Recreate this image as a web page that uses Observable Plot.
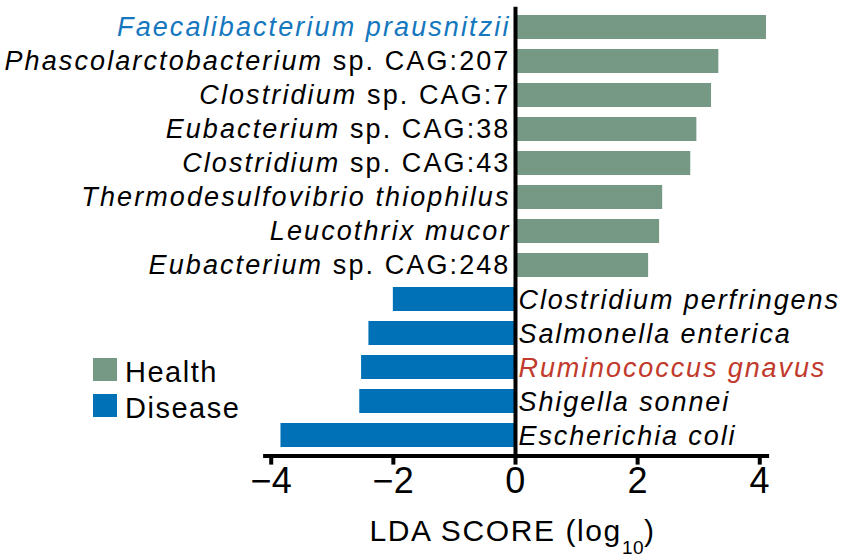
<!DOCTYPE html>
<html><head><meta charset="utf-8">
<script src="https://cdn.jsdelivr.net/npm/d3@7"></script>
<script src="https://cdn.jsdelivr.net/npm/@observablehq/plot@0.6"></script>
<style>
body{margin:0;background:#fff;}
#wrap{position:relative;width:845px;height:560px;font-family:"Liberation Sans",Arial,sans-serif;color:#000;}
#wrap svg{position:absolute;left:0;top:0;}
.leg{position:absolute;font-size:29px;line-height:29px;letter-spacing:1.5px;white-space:nowrap;}
.sw{position:absolute;width:24px;height:23px;}
#xtitle{position:absolute;left:512.5px;top:516px;transform:translateX(-50%);font-size:30px;line-height:30px;letter-spacing:1.6px;white-space:nowrap;}
#xtitle .sub{font-size:19px;position:relative;top:13px;letter-spacing:0.5px;}
.ticklab text{letter-spacing:0.3px;}
.dlab text{letter-spacing:1.9px;}
</style></head><body><div id="wrap"></div>
<script>
const healthNames = [
  "Faecalibacterium prausnitzii",
  "Phascolarctobacterium sp. CAG:207",
  "Clostridium sp. CAG:7",
  "Eubacterium sp. CAG:38",
  "Clostridium sp. CAG:43",
  "Thermodesulfovibrio thiophilus",
  "Leucothrix mucor",
  "Eubacterium sp. CAG:248"
];
const healthScores = [4.11, 3.33, 3.21, 2.97, 2.87, 2.41, 2.36, 2.18];
const diseaseNames = [
  "Clostridium perfringens",
  "Salmonella enterica",
  "Ruminococcus gnavus",
  "Shigella sonnei",
  "Escherichia coli"
];
const diseaseScores = [-2.00, -2.40, -2.52, -2.55, -3.84];
const groups = ["Health", "Disease"];
const xTicks = [-4, -2, 0, 2, 4];
const xTitle = "LDA SCORE (log";
const xTitleSub = "10";

const groupColors = ["#769986", "#0071B7"];
const labelColor = {"Faecalibacterium prausnitzii": "#1577BE", "Ruminococcus gnavus": "#C13A2C"};

const healthRows = healthNames.map((name, i) => ({name, score: healthScores[i], group: groups[0]}));
const diseaseRows = diseaseNames.map((name, i) => ({name, score: diseaseScores[i], group: groups[1]}));
const rows = healthRows.concat(diseaseRows);

function labelMarks(subset, opts) {
  const cols = Array.from(new Set(subset.map(d => labelColor[d.name] || "black")));
  return cols.map(c => Plot.text(subset.filter(d => (labelColor[d.name] || "black") === c), {...opts, fill: c}));
}

const chart = Plot.plot({
  width: 845,
  height: 560,
  marginTop: 6.7,
  marginBottom: 104.4,
  marginLeft: 264.6,
  marginRight: 78.4,
  style: {fontFamily: '"Liberation Sans", Arial, sans-serif', letterSpacing: "2.1px", background: "transparent"},
  x: {domain: [-4.1, 4.12], axis: null},
  y: {domain: rows.map(d => d.name), axis: null, paddingInner: 0.3, paddingOuter: 0.15},
  color: {domain: groups, range: groupColors},
  marks: [
    Plot.barX(rows, {x: "score", y: "name", fill: "group"}),
    Plot.ruleX([0], {stroke: "black", strokeWidth: 4}),
    Plot.frame({anchor: "bottom", stroke: "black", strokeWidth: 4}),
    Plot.axisX({ticks: xTicks, tickSize: 9, tickPadding: 2, strokeWidth: 4, fontSize: 36, label: null,
      tickFormat: d3.format("d"), className: "ticklab"}),
    ...labelMarks(healthRows, {x: 0, y: "name", text: "name", textAnchor: "end", dx: -5, dy: 0, fontSize: 27, fontStyle: "italic"}),
    ...labelMarks(diseaseRows, {x: 0, y: "name", text: "name", textAnchor: "start", dx: 3, dy: 1, fontSize: 27, fontStyle: "italic", className: "dlab"})
  ]
});

// genus italic, "sp. CAG:xx" upright
d3.select(chart).selectAll("text").each(function() {
  const t = this.textContent;
  const i = t.indexOf(" sp. ");
  if (i > 0) {
    const sel = d3.select(this);
    sel.text(null);
    sel.append("tspan").text(t.slice(0, i));
    sel.append("tspan").attr("font-style", "normal").text("\u00a0" + t.slice(i + 1));
  }
});

const wrap = document.getElementById("wrap");
wrap.appendChild(chart);

// legend
const legTops = [358.3, 394.3];
groups.forEach((g, i) => {
  const sw = document.createElement("div");
  sw.className = "sw";
  sw.style.left = "92.7px";
  sw.style.top = legTops[i] + "px";
  sw.style.background = groupColors[i];
  wrap.appendChild(sw);
  const lab = document.createElement("div");
  lab.className = "leg";
  lab.style.left = "125px";
  lab.style.top = (legTops[i] - 0.5) + "px";
  lab.textContent = g;
  wrap.appendChild(lab);
});

// axis title
const tt = document.createElement("div");
tt.id = "xtitle";
tt.innerHTML = xTitle + '<span class="sub">' + xTitleSub + '</span>)';
wrap.appendChild(tt);
</script>
</body></html>
